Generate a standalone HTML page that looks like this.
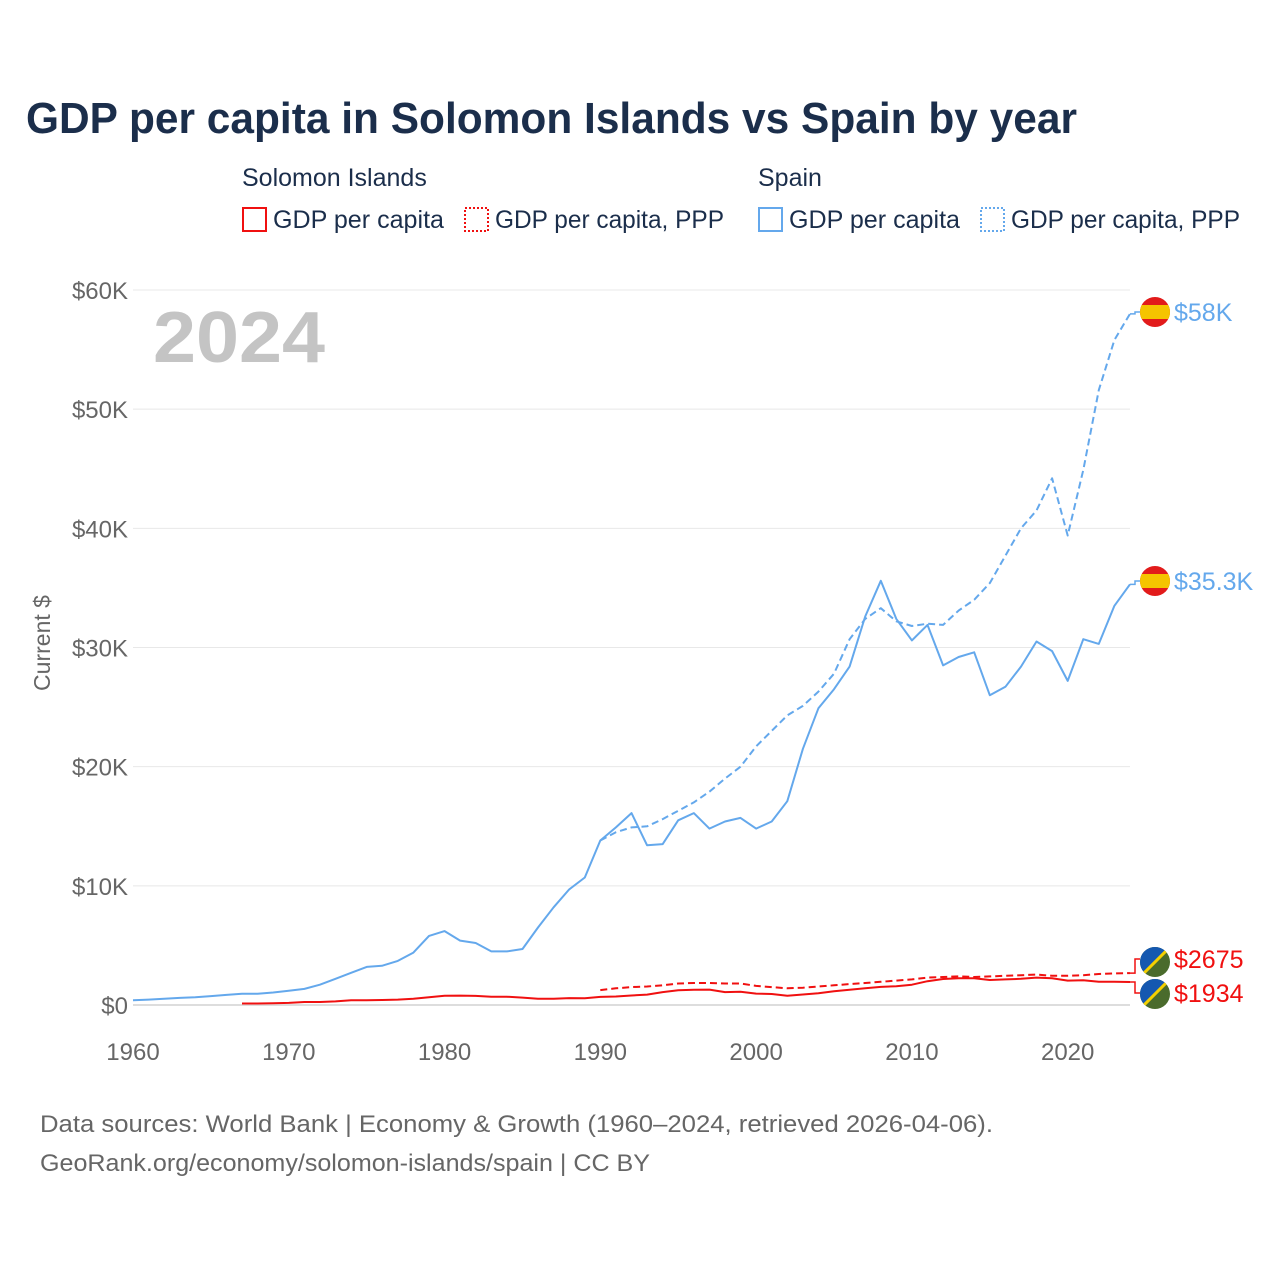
<!DOCTYPE html>
<html><head><meta charset="utf-8"><style>
body{margin:0;background:#fff;width:1280px;height:1280px;overflow:hidden;font-family:"Liberation Sans",sans-serif}
</style></head><body>
<svg id="chart" width="1280" height="1280" xmlns="http://www.w3.org/2000/svg" font-family="Liberation Sans, sans-serif">
<text x="26" y="133" font-size="44" font-weight="bold" fill="#1b2e4b" textLength="1051" lengthAdjust="spacingAndGlyphs">GDP per capita in Solomon Islands vs Spain by year</text>
<text x="242" y="186" font-size="25" fill="#1b2e4b">Solomon Islands</text>
<text x="758" y="186" font-size="25" fill="#1b2e4b">Spain</text>
<g><rect x="243" y="208" width="23" height="23" fill="none" stroke="#f01010" stroke-width="2"/><text x="273" y="228" font-size="25" fill="#1b2e4b" textLength="171" lengthAdjust="spacingAndGlyphs">GDP per capita</text></g>
<g><rect x="465" y="208" width="23" height="23" fill="none" stroke="#f01010" stroke-width="2" stroke-dasharray="2,2"/><text x="495" y="228" font-size="25" fill="#1b2e4b" textLength="229" lengthAdjust="spacingAndGlyphs">GDP per capita, PPP</text></g>
<g><rect x="759" y="208" width="23" height="23" fill="none" stroke="#64a8ec" stroke-width="2"/><text x="789" y="228" font-size="25" fill="#1b2e4b" textLength="171" lengthAdjust="spacingAndGlyphs">GDP per capita</text></g>
<g><rect x="981" y="208" width="23" height="23" fill="none" stroke="#64a8ec" stroke-width="2" stroke-dasharray="2,2"/><text x="1011" y="228" font-size="25" fill="#1b2e4b" textLength="229" lengthAdjust="spacingAndGlyphs">GDP per capita, PPP</text></g>
<text x="153" y="362" font-size="72" font-weight="bold" fill="#c4c4c4" textLength="172" lengthAdjust="spacingAndGlyphs">2024</text>
<text transform="translate(50,643) rotate(-90)" text-anchor="middle" font-size="23" fill="#666">Current $</text>
<g id="grid"></g><g id="series"></g><g id="labels"></g>
<text x="40" y="1132" font-size="24" fill="#666" textLength="953" lengthAdjust="spacingAndGlyphs">Data sources: World Bank | Economy &amp; Growth (1960–2024, retrieved 2026-04-06).</text>
<text x="40" y="1171" font-size="24" fill="#666" textLength="610" lengthAdjust="spacingAndGlyphs">GeoRank.org/economy/solomon-islands/spain | CC BY</text>
</svg>
<script>
const yTicks=[0,10000,20000,30000,40000,50000,60000];
const yTickLabels=["$0","$10K","$20K","$30K","$40K","$50K","$60K"];
const xTicks=[1960,1970,1980,1990,2000,2010,2020];
const spainYears0=1960;
const spainGdp=[400,450,520,600,650,750,850,950,950,1050,1200,1350,1700,2200,2700,3200,3300,3700,4400,5800,6200,5400,5200,4500,4500,4700,6500,8200,9700,10700,13800,14900,16100,13400,13500,15500,16100,14800,15400,15700,14800,15400,17100,21500,24900,26500,28400,32600,35600,32400,30600,31900,28500,29200,29600,26000,26700,28400,30500,29700,27200,30700,30300,33500,35300];
const spainPppYear0=1990;
const spainPpp=[13800,14500,14900,15000,15600,16300,17000,17900,19000,20000,21700,23000,24300,25100,26300,27800,30700,32400,33300,32200,31800,32000,31900,33100,34000,35400,37700,40000,41500,44200,39400,44900,51600,55800,58000];
const solYear0=1967;
const solGdp=[130,130,150,180,250,250,300,400,400,420,450,520,650,780,790,760,700,700,620,530,530,580,560,680,710,800,870,1080,1230,1280,1290,1080,1120,960,920,780,880,990,1150,1280,1400,1520,1580,1700,2000,2180,2250,2250,2100,2150,2200,2300,2250,2050,2080,1950,1950,1934];
const solPppYear0=1990;
const solPpp=[1250,1400,1500,1550,1650,1800,1850,1850,1800,1800,1600,1500,1400,1450,1550,1650,1750,1850,1950,2050,2150,2300,2350,2400,2350,2400,2450,2500,2550,2450,2450,2500,2600,2650,2675];
const X=y=>133+(y-1960)*(1130-133)/64;
const Y=v=>1005-v*(1005-290)/60000;
const NS="http://www.w3.org/2000/svg";
function mk(p,t,a){const e=document.createElementNS(NS,t);for(const k in a)e.setAttribute(k,a[k]);document.getElementById(p).appendChild(e);return e;}
yTicks.forEach((v,i)=>{
 const l=mk('grid','line',{x1:133,x2:1130,y1:Y(v),y2:Y(v),stroke:v===0?'#ddd':'#e8e8e8','stroke-width':v===0?2:1});
 
 
 const t=mk('grid','text',{x:128,y:Y(v)+9,'text-anchor':'end','font-size':24,fill:'#666'});t.textContent=yTickLabels[i];
 
 
});
xTicks.forEach(y=>{
 const t=mk('grid','text',{x:X(y),y:1060,'text-anchor':'middle','font-size':24,fill:'#666'});t.textContent=y;
 
 
});
function line(arr,y0,color,dash,name){
 const d=arr.map((v,i)=>(i?'L':'M')+X(y0+i).toFixed(1)+','+Y(v).toFixed(1)).join('');
 const p=mk('series','path',{d:d,fill:'none',stroke:color,'stroke-width':2,'stroke-dasharray':dash,'stroke-linejoin':'round'});
 
 
}
line(spainGdp,spainYears0,'#64a8ec','none','line-spain-gdp');
line(spainPpp,spainPppYear0,'#64a8ec','7,4','line-spain-ppp');
line(solGdp,solYear0,'#f01010','none','line-solomon-gdp');
line(solPpp,solPppYear0,'#f01010','7,4','line-solomon-ppp');
function spainFlag(cy,name){
 const g=mk('labels','g',{});
 
 
 g.innerHTML=`<clipPath id="c${cy}"><circle cx="1155" cy="${cy}" r="15"/></clipPath><g clip-path="url(#c${cy})"><rect x="1140" y="${cy-15}" width="30" height="30" fill="#e21b1b"/><rect x="1140" y="${cy-7}" width="30" height="14" fill="#f5c400"/></g>`;
}
function solFlag(cy,name){
 const g=mk('labels','g',{});
 
 
 g.innerHTML=`<clipPath id="c${cy}"><circle cx="1155" cy="${cy}" r="15"/></clipPath><g clip-path="url(#c${cy})"><rect x="1140" y="${cy-15}" width="30" height="30" fill="#4a6b2c"/><polygon points="1140,${cy-15} 1170,${cy-15} 1140,${cy+15}" fill="#1558b0"/><line x1="1170" y1="${cy-15}" x2="1140" y2="${cy+15}" stroke="#f5d000" stroke-width="3"/></g>`;
}
function endLabel(v,cy,txt,color,name){
 const l=mk('labels','path',{d:`M1130,${Y(v)}H1135V${cy}H1140`,fill:'none',stroke:color,'stroke-width':1.5});
 
 
 const t=mk('labels','text',{x:1174,y:cy+9,'font-size':25,fill:color});t.textContent=txt;
 
 
}
endLabel(spainPpp[spainPpp.length-1],312,'$58K','#64a8ec','end-label-spain-ppp');
spainFlag(312,'flag-spain-ppp');
endLabel(spainGdp[spainGdp.length-1],581,'$35.3K','#64a8ec','end-label-spain-gdp');
spainFlag(581,'flag-spain-gdp');
endLabel(solPpp[solPpp.length-1],959,'$2675','#f01010','end-label-solomon-ppp');
solFlag(962,'flag-solomon-ppp');
endLabel(solGdp[solGdp.length-1],993,'$1934','#f01010','end-label-solomon-gdp');
solFlag(994,'flag-solomon-gdp');
</script>
</body></html>
